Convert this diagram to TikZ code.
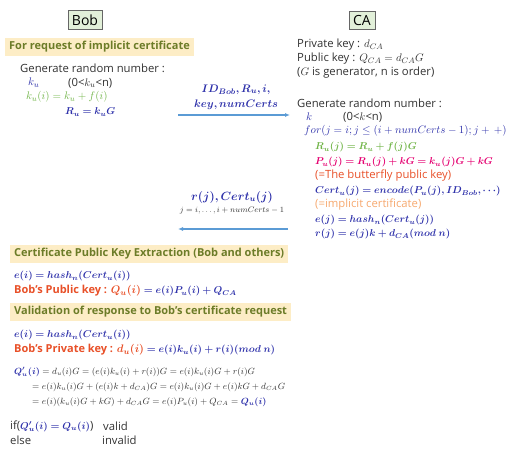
\documentclass[tikz,border=0pt]{standalone}
\usepackage{amsmath}
\usepackage{bm}
\usepackage{fontspec}
\setmainfont{Open Sans}
\usetikzlibrary{arrows.meta}
\definecolor{myblue}{RGB}{46,49,170}
\definecolor{mygreen}{RGB}{112,180,71}
\definecolor{mypink}{RGB}{228,0,112}
\definecolor{myorange}{RGB}{232,80,40}
\definecolor{mypeach}{RGB}{246,168,110}
\definecolor{myolive}{RGB}{108,124,40}
\definecolor{myhl}{RGB}{253,237,198}
\definecolor{myarrow}{RGB}{91,155,213}
\definecolor{mybox}{RGB}{226,240,217}
\definecolor{mytext}{RGB}{50,50,50}

\begin{document}
\begin{tikzpicture}[x=1pt,y=-1pt,
  txt/.style={anchor=west,inner sep=0pt,text=mytext,font=\fontsize{11.3}{13}\selectfont},
  frm/.style={anchor=west,inner sep=0pt,text=myblue,font=\fontsize{10.2}{12}\selectfont},
  drv/.style={anchor=west,inner sep=0pt,text=mytext,font=\fontsize{8.6}{10}\selectfont},
  hl/.style={anchor=west,fill=myhl,text=myolive,inner xsep=4pt,inner ysep=3.5pt,
    font=\bfseries\fontsize{11}{13}\selectfont},
  party/.style={draw=black!60,fill=mybox,inner sep=4pt,font=\fontsize{14}{16}\selectfont},
  msg/.style={-{Latex[length=5pt,width=4pt]},myarrow,line width=1.2pt}]
  \useasboundingbox (0,0) rectangle (511,448);

%parties:
  \node[party] (bob) at (85,20) {Bob};
  \node[party] (ca) at (362,20) {CA};

%Bob, request:
  \node[hl] (req) at (5,47) {For request of implicit certificate};
  \node[txt] (genbob) at (20,68) {Generate random number :};
  \node[txt,text=myblue] (ku) at (28,83) {$k_u$};
  \node[txt] (kurange) at (68,83) {(0<$k_u$<n)};
  \node[txt,text=mygreen] (kui) at (26,97) {$k_u(i)=k_u+f(i)$};
  \node[frm] (ru) at (65,112) {$\bm{R_u=k_uG}$};

%CA:
  \node[txt] (prv) at (297,45) {Private key : $d_{CA}$};
  \node[txt] (pub) at (297,59) {Public key : $Q_{CA}=d_{CA}G$};
  \node[txt] (gen) at (297,73) {($G$ is generator, n is order)};
  \node[txt] (genca) at (297,103) {Generate random number :};
  \node[txt,text=myblue] (k) at (306,117) {$k$};
  \node[txt] (krange) at (343,117) {(0<$k$<n)};
  \node[txt,text=myblue] (for) at (304,131) {$for(j=i;j\le(i+numCerts-1);j+\,+)$};
  \node[frm,text=mygreen] (ruj) at (315,147) {$\bm{R_u(j)=R_u+f(j)G}$};
  \node[frm,text=mypink] (puj) at (315,162) {$\bm{P_u(j)=R_u(j)+kG=k_u(j)G+kG}$};
  \node[txt,text=myorange] (bfly) at (315,176) {(=The butterfly public key)};
  \node[frm] (cert) at (315,191) {$\bm{Cert_u(j)=encode(P_u(j),ID_{Bob},\cdots)}$};
  \node[txt,text=mypeach] (impl) at (315,205) {(=implicit certificate)};
  \node[frm] (ej) at (315,220) {$\bm{e(j)=hash_n(Cert_u(j))}$};
  \node[frm] (rj) at (315,234) {$\bm{r(j)=e(j)k+d_{CA}(mod\ n)}$};

%messages:
  \coordinate (reqbob) at (178,115);
  \coordinate (reqca) at (290,115);
  \draw[msg] (reqbob) -- (reqca);
  \node[text=myblue,align=center,inner sep=0pt,font=\fontsize{11}{15}\selectfont] (reqlbl) at (236,97)
    {$\bm{ID_{Bob},R_u,i,}$\\$\bm{key,numCerts}$};
  \coordinate (resca) at (288,229);
  \coordinate (resbob) at (178,229);
  \draw[msg] (resca) -- (resbob);
  \node[text=myblue,inner sep=0pt,font=\fontsize{12}{14}\selectfont] (reslbl) at (232,197) {$\bm{r(j),Cert_u(j)}$};
  \node[text=mytext,inner sep=0pt,font=\fontsize{8.2}{9}\selectfont] (residx) at (232,211) {$j=i,\ldots,i+numCerts-1$};

%extraction:
  \node[hl] (ext) at (10,254) {Certificate Public Key Extraction (Bob and others)};
  \node[frm] (ei1) at (14,276) {$\bm{e(i)=hash_n(Cert_u(i))}$};
  \node[frm] (qu) at (14,291) {\textcolor{myorange}{\bfseries\fontsize{11}{13}\selectfont Bob's Public key : $\bm{Q_u(i)}$}%
    $\bm{{}=e(i)P_u(i)+Q_{CA}}$};

%validation:
  \node[hl] (val) at (10,312) {Validation of response to Bob's certificate request};
  \node[frm] (ei2) at (14,335) {$\bm{e(i)=hash_n(Cert_u(i))}$};
  \node[frm] (du) at (14,350) {\textcolor{myorange}{\bfseries\fontsize{11}{13}\selectfont Bob's Private key : $\bm{d_u(i)}$}%
    $\bm{{}=e(i)k_u(i)+r(i)(mod\ n)}$};
  \node[drv] (der1) at (14,372) {$\textcolor{myblue}{\bm{Q'_u(i)}}=d_u(i)G=(e(i)k_u(i)+r(i))G=e(i)k_u(i)G+r(i)G$};
  \node[drv] (der2) at (32,387) {$=e(i)k_u(i)G+(e(i)k+d_{CA})G=e(i)k_u(i)G+e(i)kG+d_{CA}G$};
  \node[drv] (der3) at (32,402) {$=e(i)(k_u(i)G+kG)+d_{CA}G=e(i)P_u(i)+Q_{CA}=\textcolor{myblue}{\bm{Q_u(i)}}$};
  \node[txt] (ifv) at (10,426) {if(\fontsize{9.6}{12}\selectfont$\textcolor{myblue}{\bm{Q'_u(i)=Q_u(i)}}$\fontsize{11.3}{13}\selectfont)};
  \node[txt] (valid) at (103,426) {valid};
  \node[txt] (else) at (10,440) {else};
  \node[txt] (invalid) at (102,440) {invalid};
\end{tikzpicture}
\end{document}
